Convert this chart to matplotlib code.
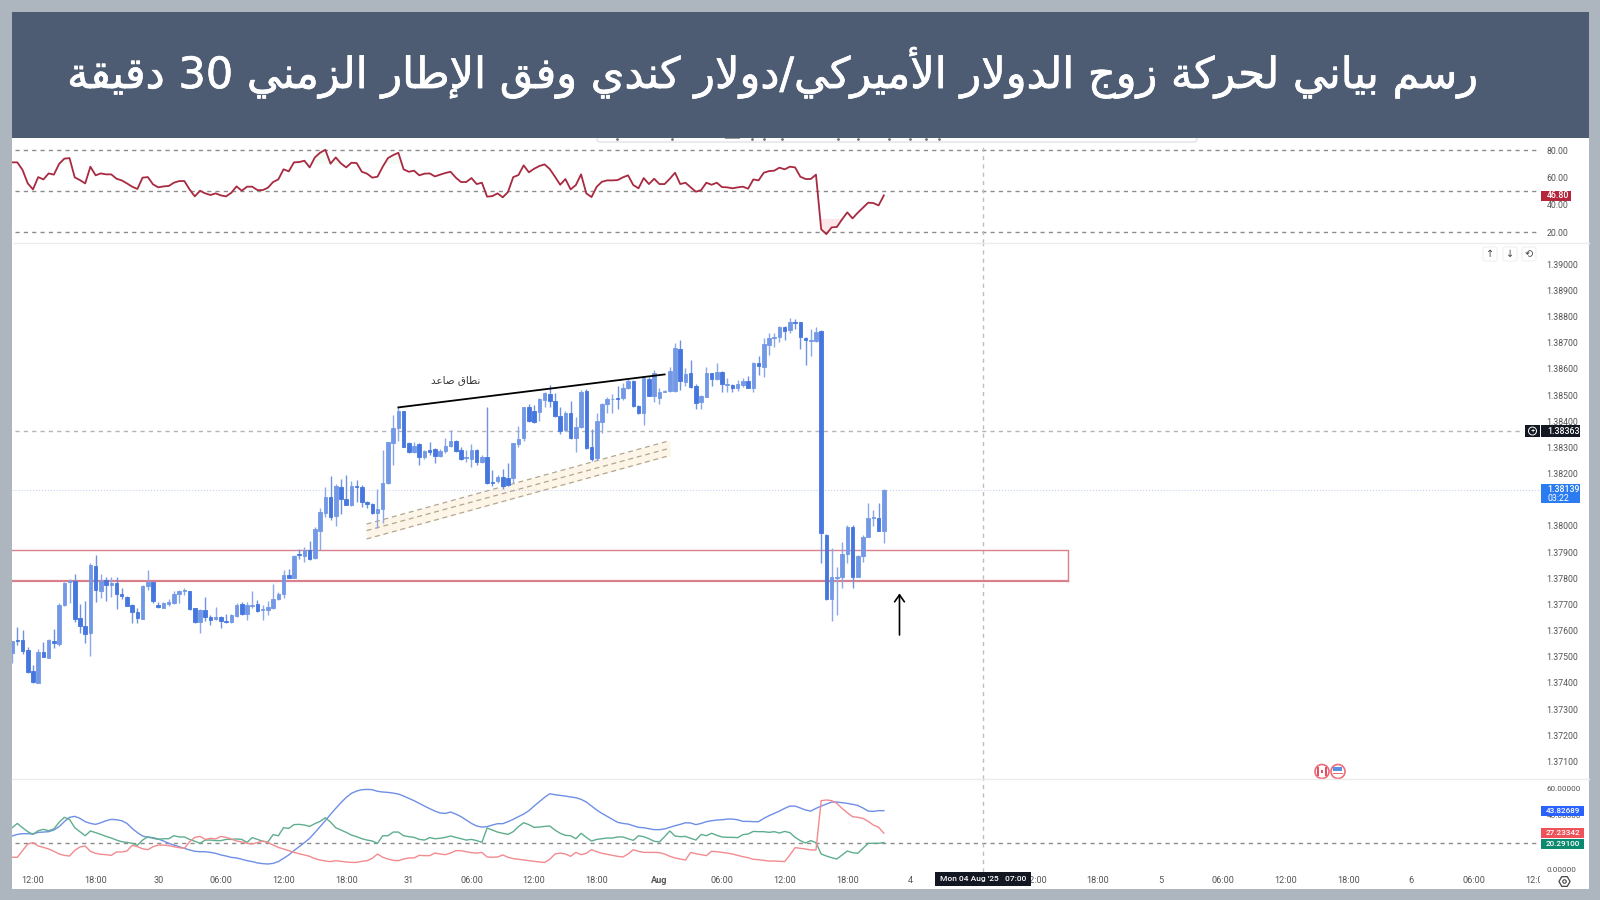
import numpy as np
import matplotlib
matplotlib.use("Agg")
import matplotlib.pyplot as plt
import matplotlib.patheffects as pe
from matplotlib.patches import Rectangle, Circle, FancyBboxPatch

plt.rcParams['font.family'] = ['Roboto', 'DejaVu Sans']

# DATA - 30 minute candles in points (1e-5), bar 0 = 29 Jul 12:00
first_bar = -4
opens = [
    137515,137564,137564,137526,137445,137401,137518,137496,137560,137549,
    137698,137784,137791,137648,137617,137589,137847,137752,137793,137775,
    137783,137741,137729,137698,137672,137644,137771,137787,137696,137686,
    137701,137704,137738,137752,137751,137685,137633,137678,137650,137643,
    137653,137636,137631,137656,137700,137663,137694,137700,137677,137677,
    137685,137719,137738,137811,137802,137892,137885,137906,137876,137981,
    138048,138112,138036,138148,138103,138078,138154,138150,138093,138084,
    138051,138063,138163,138318,138376,138439,138318,138284,138313,138262,
    138290,138293,138267,138286,138306,138326,138290,138258,138257,138290,
    138246,138265,138169,138170,138186,138185,138182,138314,138335,138456,
    138438,138437,138481,138504,138479,138421,138367,138433,138335,138377,
    138514,138300,138258,138399,138465,138484,138489,138488,138526,138555,
    138458,138430,138562,138496,138489,138513,138515,138515,138678,138551,
    138583,138533,138473,138494,138583,138560,138589,138540,138540,138528,
    138538,138552,138529,138624,138608,138693,138718,138722,138759,138749,
    138778,138778,138719,138708,138708,138746,137966,137719,137802,137803,
    137892,137994,137806,137885,137959,138029,138029,137982]
highs = [
    137560,137612,137602,137536,137467,137528,137556,137569,137607,137706,
    137787,137796,137816,137701,137712,137857,137887,137816,137806,137803,
    137803,137761,137733,137700,137685,137774,137831,137791,137710,137708,
    137719,137752,137755,137761,137752,137687,137681,137727,137659,137691,
    137656,137663,137663,137704,137710,137710,137750,137717,137698,137714,
    137778,137749,137831,137834,137890,137912,137921,137941,137997,138070,
    138148,138189,138160,138178,138195,138171,138176,138157,138097,138087,
    138142,138290,138322,138424,138453,138441,138321,138322,138316,138290,
    138322,138297,138293,138335,138367,138328,138300,138290,138313,138293,
    138271,138456,138214,138195,138216,138242,138318,138382,138456,138466,
    138462,138488,138512,138537,138507,138456,138441,138479,138418,138520,
    138525,138369,138433,138469,138492,138504,138535,138548,138563,138558,
    138464,138568,138571,138595,138529,138519,138606,138700,138710,138602,
    138634,138542,138500,138608,138585,138624,138592,138564,138542,138557,
    138564,138573,138626,138649,138717,138738,138736,138764,138765,138794,
    138789,138780,138723,138751,138759,138749,137969,137914,137844,137937,
    138003,138003,137889,137965,138089,138061,138086,138142]
lows = [
    137477,137543,137510,137439,137401,137398,137498,137496,137532,137541,
    137695,137704,137634,137592,137551,137504,137710,137723,137714,137729,
    137681,137720,137694,137630,137630,137643,137755,137706,137687,137686,
    137694,137701,137704,137736,137678,137630,137592,137638,137621,137640,
    137610,137630,137630,137650,137659,137640,137685,137671,137640,137659,
    137682,137717,137723,137799,137799,137873,137862,137870,137875,137908,
    138033,138023,138000,138046,138078,138076,138093,138074,138067,138046,
    137991,138010,138160,138233,138325,138300,138277,138277,138233,138255,
    138271,138242,138262,138280,138303,138284,138252,138246,138227,138233,
    138242,138160,138153,138163,138140,138154,138165,138300,138326,138397,
    138395,138402,138456,138456,138418,138351,138364,138332,138281,138373,
    138295,138247,138252,138354,138433,138433,138446,138481,138522,138456,
    138428,138386,138497,138475,138466,138510,138513,138513,138519,138535,
    138529,138445,138445,138491,138535,138557,138512,138513,138513,138515,
    138532,138526,138513,138577,138568,138653,138685,138704,138710,138738,
    138751,138675,138615,138650,138704,137857,137717,137638,137659,137761,
    137857,137761,137803,137863,137956,138000,137979,137936]
closes = [
    137560,137561,137523,137443,137403,137518,137498,137564,137552,137698,
    137780,137789,137644,137617,137585,137849,137755,137788,137775,137783,
    137741,137731,137695,137670,137647,137771,137787,137713,137690,137704,
    137709,137738,137752,137755,137684,137631,137678,137653,137640,137653,
    137635,137631,137658,137698,137663,137698,137698,137675,137681,137689,
    137719,137738,137811,137802,137885,137888,137906,137874,137987,138052,
    138112,138033,138153,138102,138078,138154,138149,138093,138082,138048,
    138065,138163,138320,138376,138439,138303,138284,138306,138262,138285,
    138284,138267,138285,138306,138326,138288,138256,138262,138290,138246,
    138265,138163,138164,138186,138153,138156,138316,138334,138453,138401,
    138399,138484,138507,138478,138421,138364,138433,138335,138377,138512,
    138298,138256,138401,138465,138485,138486,138484,138527,138555,138458,
    138430,138564,138498,138583,138513,138515,138592,138681,138554,138580,
    138532,138471,138496,138583,138560,138589,138542,138542,138527,138542,
    138554,138529,138624,138612,138695,138718,138723,138759,138746,138778,
    138774,138721,138710,138710,138743,137971,137719,137806,137806,137892,
    137997,137806,137885,137959,138029,138033,137982,138139]

rsi = [
    71.0,71.0,65.4,55.6,51.2,60.2,58.5,62.9,62.0,69.8,
    73.7,74.1,60.0,58.0,55.6,67.8,61.5,62.9,62.2,62.2,
    59.0,57.8,55.6,53.2,51.5,59.8,60.2,54.9,52.7,53.4,
    53.7,56.1,57.3,57.3,51.2,46.1,50.2,48.3,47.1,48.3,
    46.8,46.1,48.8,53.4,50.2,53.2,53.2,50.7,50.7,52.4,
    56.6,58.5,65.9,64.4,71.0,71.2,72.2,67.3,74.6,78.0,
    80.2,70.0,74.6,70.2,67.3,70.7,70.5,64.1,62.7,59.8,
    60.5,67.8,74.1,76.3,78.0,65.9,64.1,64.9,61.5,62.7,
    62.9,60.7,62.0,63.2,64.1,59.8,56.6,56.6,59.5,55.1,
    56.1,45.9,46.3,48.3,
    45.4,49.3,60.2,61.7,68.8,63.7,66.3,68.3,69.5,66.1,
    60.5,54.6,58.8,51.2,54.4,62.2,48.3,45.6,53.2,56.8,
    57.8,57.8,58.0,60.0,61.5,54.4,52.0,59.5,55.1,59.0,
    55.1,55.1,59.0,63.4,55.1,56.1,52.7,49.5,50.7,56.1,
    54.6,56.1,52.9,52.7,52.0,52.7,53.2,51.7,58.5,57.8,
    63.4,64.6,64.9,67.1,65.9,67.8,67.3,60.5,58.8,58.8,
    62.0,22.0,18.5,23.4,23.7,29.3,34.4,30.0,34.1,37.8,
    41.5,41.2,39.5,46.8]

adx = [
    25.1,26.3,26.8,26.8,26.6,27.8,28.0,28.3,29.5,32.0,
    35.7,38.9,39.6,38.1,35.7,34.4,33.7,34.9,36.4,37.4,
    37.1,36.4,34.4,30.7,27.6,25.1,24.1,23.9,22.9,21.4,
    19.7,18.4,17.2,16.0,14.8,13.8,13.5,13.5,13.0,12.3,
    11.1,10.3,9.3,8.9,7.9,6.9,6.2,5.2,4.7,4.4,
    4.9,6.2,8.6,11.1,14.3,17.2,20.2,23.4,27.6,32.0,
    36.4,41.1,45.5,49.7,53.6,56.6,58.3,59.3,59.5,59.3,
    58.1,57.6,57.3,56.8,56.1,54.6,52.9,51.2,49.2,47.2,
    45.3,43.5,42.1,41.8,42.8,41.3,39.4,36.9,34.4,32.5,
    31.7,32.0,33.2,34.2,
    34.2,35.7,37.4,39.4,41.3,43.8,47.2,50.4,53.6,56.3,
    55.6,55.1,54.6,53.9,53.4,52.2,50.2,47.2,44.3,41.8,
    39.6,37.4,35.2,34.4,33.9,32.7,31.5,31.2,30.5,29.8,
    29.8,30.3,31.5,32.7,33.7,34.9,34.7,33.5,34.4,35.7,
    36.4,36.9,37.1,37.6,37.6,37.1,35.9,35.9,35.7,35.7,
    38.1,40.1,41.8,43.5,45.5,47.2,47.2,45.8,44.3,43.5,
    45.5,47.2,48.7,50.2,50.2,49.7,49.2,48.5,47.7,45.8,
    43.5,43.3,43.8,43.83]
plus_di = [
    31.2,34.4,31.2,28.3,26.3,29.0,30.0,29.0,30.3,35.2,
    38.9,37.4,31.2,28.3,25.3,28.8,27.6,26.3,24.8,23.6,
    22.1,20.9,20.4,19.7,18.2,22.1,24.6,23.4,22.6,23.1,
    23.1,25.3,24.4,24.4,22.6,21.2,19.7,22.1,22.1,21.7,
    21.7,22.6,22.6,22.9,22.6,20.4,23.9,22.6,21.2,20.7,
    26.1,25.3,31.2,30.7,33.5,33.7,33.2,32.2,34.2,35.9,
    38.6,35.4,31.2,29.5,27.8,25.8,24.6,23.1,22.1,21.4,
    19.7,25.3,25.3,28.0,28.0,25.3,24.6,24.1,22.6,22.1,
    23.9,23.1,23.4,24.1,25.1,24.1,23.1,22.1,22.6,21.7,
    20.4,31.0,29.5,28.0,
    27.1,26.3,28.3,32.0,34.9,33.5,31.5,31.7,32.2,32.5,
    29.5,27.1,25.6,25.3,23.1,27.1,24.1,21.4,22.6,23.1,
    23.6,23.6,24.4,24.4,23.1,21.9,25.3,24.6,23.1,21.2,
    20.7,24.6,28.8,25.1,24.6,24.8,23.4,22.1,26.3,25.3,
    27.1,25.6,24.4,24.1,24.1,23.9,26.1,26.6,28.5,28.3,
    28.3,27.8,28.3,27.3,28.5,27.6,24.1,21.7,19.9,21.7,
    20.2,11.8,10.3,9.1,8.1,11.1,14.0,12.8,12.3,16.0,
    19.7,19.7,19.7,20.29]
minus_di = [
    9.4,9.4,14.3,19.2,20.2,17.7,16.7,15.5,13.8,11.8,
    10.8,10.3,14.5,17.0,17.7,13.8,12.3,11.6,11.3,10.8,
    13.3,13.3,14.0,18.2,17.2,15.7,15.0,17.2,18.4,18.4,
    18.0,17.2,16.5,16.0,20.9,24.1,24.8,22.6,23.4,22.9,
    24.8,24.1,22.9,21.4,20.7,19.7,19.2,20.2,21.4,20.4,
    18.4,16.7,15.5,14.3,13.0,12.0,11.1,10.1,8.4,7.4,
    6.6,6.2,6.9,6.4,5.9,5.6,5.6,6.4,6.9,8.6,
    11.8,9.4,8.1,7.1,6.9,8.1,8.9,8.9,10.8,10.6,
    10.6,12.5,11.8,11.3,12.5,14.3,14.3,13.5,12.8,12.5,
    13.0,9.6,9.4,9.6,
    11.1,9.4,8.4,7.9,7.4,6.9,6.4,5.9,5.6,7.9,
    11.8,12.5,11.8,10.1,13.0,11.3,12.3,15.0,13.5,12.3,
    11.6,10.8,10.1,9.6,11.8,15.0,13.8,13.0,13.0,13.0,
    12.8,11.8,10.1,8.9,8.1,7.4,13.0,12.0,11.3,10.6,
    13.8,13.5,13.0,12.5,11.8,10.8,9.8,9.1,7.9,7.6,
    7.1,6.6,6.6,6.4,6.2,11.1,16.5,16.0,15.5,14.8,
    14.8,51.2,51.7,51.2,49.2,45.5,42.3,39.4,38.9,38.1,
    35.9,33.2,31.5,27.23]

# the 06:00 under the date tag (bar 180) is hidden in the picture
time_ticks = [0,12,24,36,48,60,72,84,96,108,120,132,144,156,168,192,204,216,228,240,252,264,276,288]
time_labels = ['12:00','18:00','30','06:00','12:00','18:00','31','06:00','12:00','18:00','Aug',
               '06:00','12:00','18:00','4','12:00','18:00','5','06:00','12:00','18:00','6','06:00','12:00']
# 1.38100 sits under the blue last price tag
price_ticks = [1.371,1.372,1.373,1.374,1.375,1.376,1.377,1.378,1.379,1.380,
               1.382,1.383,1.384,1.385,1.386,1.387,1.388,1.389,1.390]
rsi_ticks = [20,40,60,80]
dmi_ticks = [0,40,60]
title = 'رسم بياني لحركة زوج الدولار الأميركي/دولار كندي وفق الإطار الزمني 30 دقيقة'
pattern_label = 'نطاق صاعد'
crosshair_price = 1.38363
last_price = 1.38139
zone_top, zone_bottom = 1.37906, 1.37789


# matplotlib has no arabic shaping, so pick the presentation forms by hand
FOUR_FORMS = {'ب':0xFE8F,'ت':0xFE95,'ج':0xFE9D,'ح':0xFEA1,'س':0xFEB1,'ص':0xFEB9,'ط':0xFEC1,'ع':0xFEC9,
              'ف':0xFED1,'ق':0xFED5,'ك':0xFED9,'ل':0xFEDD,'م':0xFEE1,'ن':0xFEE5,'ه':0xFEE9,'ي':0xFEF1}
TWO_FORMS = {'ا':0xFE8D,'أ':0xFE83,'إ':0xFE87,'د':0xFEA9,'ر':0xFEAD,'ز':0xFEAF,'و':0xFEED,'ة':0xFE93}
LAM_ALEF = {'ا':0xFEFB,'أ':0xFEF7,'إ':0xFEF9}

def shape_word(word):
    if any(c.isdigit() for c in word):
        return word
    out = []
    prev_joins = False
    i = 0
    while i < len(word):
        c = word[i]
        nxt = word[i + 1] if i + 1 < len(word) else ''
        if c == 'ل' and nxt in LAM_ALEF and nxt:
            out.append(chr(LAM_ALEF[nxt] + (1 if prev_joins else 0)))
            prev_joins = False
            i += 2
            continue
        if c in FOUR_FORMS:
            next_ok = nxt in FOUR_FORMS or nxt in TWO_FORMS
            form = (1 if prev_joins else 0) if not next_ok else (3 if prev_joins else 2)
            out.append(chr(FOUR_FORMS[c] + form))
            prev_joins = next_ok
        elif c in TWO_FORMS:
            out.append(chr(TWO_FORMS[c] + (1 if prev_joins else 0)))
            prev_joins = False
        else:
            out.append(c)
            prev_joins = False
        i += 1
    return ''.join(reversed(out))

def shape_ar(text):
    return ' '.join(shape_word(w) for w in reversed(text.split(' ')))


opens = np.array(opens) / 1e5
highs = np.array(highs) / 1e5
lows = np.array(lows) / 1e5
closes = np.array(closes) / 1e5
x = np.arange(first_bar, first_bar + len(opens))
x_min, x_max = -4.02, 297.9

fig = plt.figure(figsize=(16, 9), dpi=100, facecolor='#adb5bf')

def pane(top, bottom, label_size=6.3):
    a = fig.add_axes([12 / 1600, 1 - bottom / 900, 1576 / 1600, (bottom - top) / 900])
    a.patch.set_alpha(0)
    a.set_xlim(x_min, x_max)
    for s in a.spines.values():
        s.set_visible(False)
    a.set_xticks([])
    a.yaxis.tick_right()
    a.tick_params(axis='y', length=0, pad=-30, labelsize=label_size, labelcolor='#555555')
    return a

bg = fig.add_axes([12 / 1600, 1 - 889 / 900, 1577 / 1600, 877 / 900], zorder=0)
bg.set_facecolor('white')
bg.set_xticks([]); bg.set_yticks([])
for s in bg.spines.values():
    s.set_visible(False)

# RSI PANE
ax_rsi = pane(138, 243)
ax_rsi.set_ylim(12.0, 88.8)
ax_rsi.set_yticks(rsi_ticks, [f'{v:.2f}' for v in rsi_ticks])
x_rsi = x[:len(rsi)]
rsi = np.array(rsi)
ax_rsi.fill_between(x_rsi, rsi, 70, where=rsi > 70, interpolate=True, color='#4caf50', alpha=0.06, lw=0)
ax_rsi.fill_between(x_rsi, rsi, 30, where=rsi < 30, interpolate=True, color='#e53950', alpha=0.12, lw=0)
for level in [80, 50, 20]:
    ax_rsi.plot([0.002, 0.968], [level, level], transform=ax_rsi.get_yaxis_transform(),
                color='#8c8c8c', lw=1, ls=(0, (3, 3)))
ax_rsi.plot(x_rsi, rsi, color='#a82a40', lw=1.3)
ax_rsi.axvline(182, ymax=0.93, color='#bdbdbd', lw=1, ls=(0, (3, 3)))

# PRICE PANE
ax = pane(243, 779)
ax.set_ylim(1.370325, 1.390814)
ax.set_yticks(price_ticks, [f'{v:.5f}' for v in price_ticks])

ax.plot([0.002, 0.959], [crosshair_price, crosshair_price], transform=ax.get_yaxis_transform(),
        color='#b5b5b5', lw=1, ls=(0, (3, 3)))
ax.axhline(last_price, xmax=0.97, color='#c6d1f0', lw=0.8, ls=':')
ax.axvline(182, color='#bdbdbd', lw=1, ls=(0, (3, 3)))

# rising band under the candles
band_x = np.array([63.9, 122.0])
band_top = np.array([1.38007, 1.38326])
band_mid = np.array([1.37982, 1.38297])
band_low = np.array([1.37950, 1.38269])
ax.fill_between(band_x, band_low, band_top, color='#fcf5e8', lw=0)
for band in [band_top, band_mid, band_low]:
    ax.plot(band_x, band, color='#b3a78f', lw=0.9, ls=(0, (4, 3)))

# demand zone
zone_end = 198.2
ax.plot([x_min, zone_end, zone_end], [zone_top, zone_top, zone_bottom], color='#d9808c', lw=1)
ax.plot([x_min, zone_end], [zone_bottom, zone_bottom], color='#d9808c', lw=1.6)

up = closes >= opens
wick_colors = np.where(up, '#8ba8e8', '#6f92e2')
body_colors = np.where(up, '#7399e6', '#4577de')
ax.vlines(x, lows, highs, colors=wick_colors, lw=1, zorder=3)
ax.bar(x, np.abs(closes - opens), bottom=np.minimum(opens, closes), width=0.68,
       color=body_colors, edgecolor=body_colors, lw=0.6, zorder=4)

ax.plot([70, 121], [1.38453, 1.38579], color='black', lw=1.3, zorder=5)
ax.annotate('', xy=(166, 1.37742), xytext=(166, 1.37583),
            arrowprops=dict(arrowstyle='->,head_length=0.5,head_width=0.35', lw=1.2, color='black',
                            shrinkA=0, shrinkB=0))

# DMI PANE
ax_dmi = pane(779, 888, label_size=5.9)
ax_dmi.set_ylim(-13.3, 67.2)
ax_dmi.set_yticks(dmi_ticks, [f'{v:.5f}' for v in dmi_ticks])
ax_dmi.plot([0.002, 0.968], [20, 20], transform=ax_dmi.get_yaxis_transform(),
            color='#8c8c8c', lw=1, ls=(0, (3, 3)))
ax_dmi.plot(x[:len(adx)], adx, color='#6f8fe6', lw=1)
ax_dmi.plot(x[:len(plus_di)], plus_di, color='#5fae8e', lw=1)
ax_dmi.plot(x[:len(minus_di)], minus_di, color='#f28b8f', lw=1)
ax_dmi.axvline(182, ymin=0.147, color='#bdbdbd', lw=1, ls=(0, (3, 3)))
ax_dmi.set_xticks(time_ticks, time_labels)
ax_dmi.tick_params(axis='x', length=0, pad=-8.6, labelsize=6.6, labelcolor='#555555')
for lab in ax_dmi.get_xticklabels():
    if lab.get_text() == 'Aug':
        lab.set_fontweight('bold')

# OVERLAY in pixels of the picture: header, price tags, small widgets
ov = fig.add_axes([0, 0, 1, 1], zorder=6)
ov.set_xlim(0, 1600)
ov.set_ylim(900, 0)
ov.axis('off')
ov.patch.set_alpha(0)

ov.add_patch(FancyBboxPatch((597, 130), 600, 12, boxstyle='round,pad=0,rounding_size=3',
                            fc='white', ec='#e3e3e3', lw=1))
ov.plot([617, 672, 752, 764, 782, 838, 858, 889, 910, 926, 939], [138.5] * 11, ls='', marker='.', ms=2, color='#777777')
ov.add_patch(Rectangle((725, 137), 15, 2, fc='#999999', lw=0))
ov.add_patch(Rectangle((12, 12), 1577, 125.5, fc='#4d5b73', lw=0))
ov.text(772, 73, shape_ar(title), color='white', fontsize=31, ha='center', va='center',
        family='DejaVu Sans', path_effects=[pe.withStroke(linewidth=0.5, foreground='white')])
ov.text(456, 380, shape_ar(pattern_label), color='#333333', fontsize=7.5, ha='center', va='center',
        family='DejaVu Sans')

ov.plot([14, 1589], [243, 243], color='#ececec', lw=1)
ov.plot([12, 1589], [779, 779], color='#ececec', lw=1)

def tag(x0, y0, x1, y1, text, color, fs=6.3, inset=6):
    ov.add_patch(Rectangle((x0, y0), x1 - x0, y1 - y0, fc=color, lw=0))
    ov.text(x0 + inset, (y0 + y1) / 2, text, color='white', fontsize=fs, ha='left', va='center', fontweight='medium')

tag(1541, 191, 1571, 201, '46.80', '#b5263c')
tag(1541, 425, 1580, 437, f'{crosshair_price:.5f}', '#131722')
ov.add_patch(Rectangle((1525, 425), 15, 12, fc='#131722', lw=0))
ov.add_patch(Circle((1532.5, 431), 4, fc='none', ec='white', lw=0.7))
ov.text(1532.5, 431, '+', color='white', fontsize=5.5, ha='center', va='center')
ov.add_patch(Rectangle((1541, 484), 39, 19, fc='#2b7cf0', lw=0))
ov.text(1547, 489, f'{last_price:.5f}', color='white', fontsize=6.3, va='center', fontweight='medium')
ov.text(1547, 498.5, '03:22', color='white', fontsize=6.3, va='center')
tag(1541, 806, 1584, 816, '43.82689', '#2962ff', fs=5.9, inset=5)
tag(1541, 828, 1584, 838, '27.23342', '#f0525a', fs=5.9, inset=5)
tag(1541, 838.5, 1584, 848.5, '20.29100', '#0b8a70', fs=5.9, inset=5)

# chart buttons
for bx, sym in zip([1490, 1510, 1529], ['↑', '↓', '⟲']):
    ov.add_patch(FancyBboxPatch((bx - 7, 247), 14, 14, boxstyle='round,pad=0,rounding_size=2',
                                fc='white', ec='#f0f0f0', lw=0.8))
    ov.text(bx, 254, sym, color='#444444', fontsize=7, ha='center', va='center', family='DejaVu Sans')

# time axis end: date tag and settings gear
ov.add_patch(Rectangle((1540, 872), 48, 16, fc='white', lw=0))
ov.add_patch(Rectangle((935, 872), 96, 14, fc='#131722', lw=0))
ov.text(983, 879.5, "Mon 04 Aug '25   07:00", color='white', fontsize=6, ha='center', va='center', fontweight='medium')
ov.plot([1564], [880.5], marker='H', ms=8, mfc='white', mec='#444444', mew=0.9, ls='')
ov.plot([1564], [880.5], marker='o', ms=2.5, mfc='white', mec='#444444', mew=0.8, ls='')

# calendar flags
ov.add_patch(Circle((1322, 771.5), 7, fc='white', ec='#ee6b78', lw=1.2))
ov.add_patch(Rectangle((1317, 767), 2.2, 9, fc='#e8505f', lw=0))
ov.add_patch(Rectangle((1325, 767), 2.2, 9, fc='#e8505f', lw=0))
ov.add_patch(Rectangle((1320.8, 770), 2.4, 3, fc='#e8505f', lw=0))
ov.add_patch(Circle((1338, 771.5), 7, fc='white', ec='#ee6b78', lw=1.2))
ov.add_patch(Rectangle((1332.5, 766.5), 9, 4.5, fc='#5b8fe0', lw=0))
ov.add_patch(Rectangle((1333, 773), 10, 1.3, fc='#ee6b78', lw=0))

fig.savefig('out.png', dpi=100, facecolor=fig.get_facecolor())
